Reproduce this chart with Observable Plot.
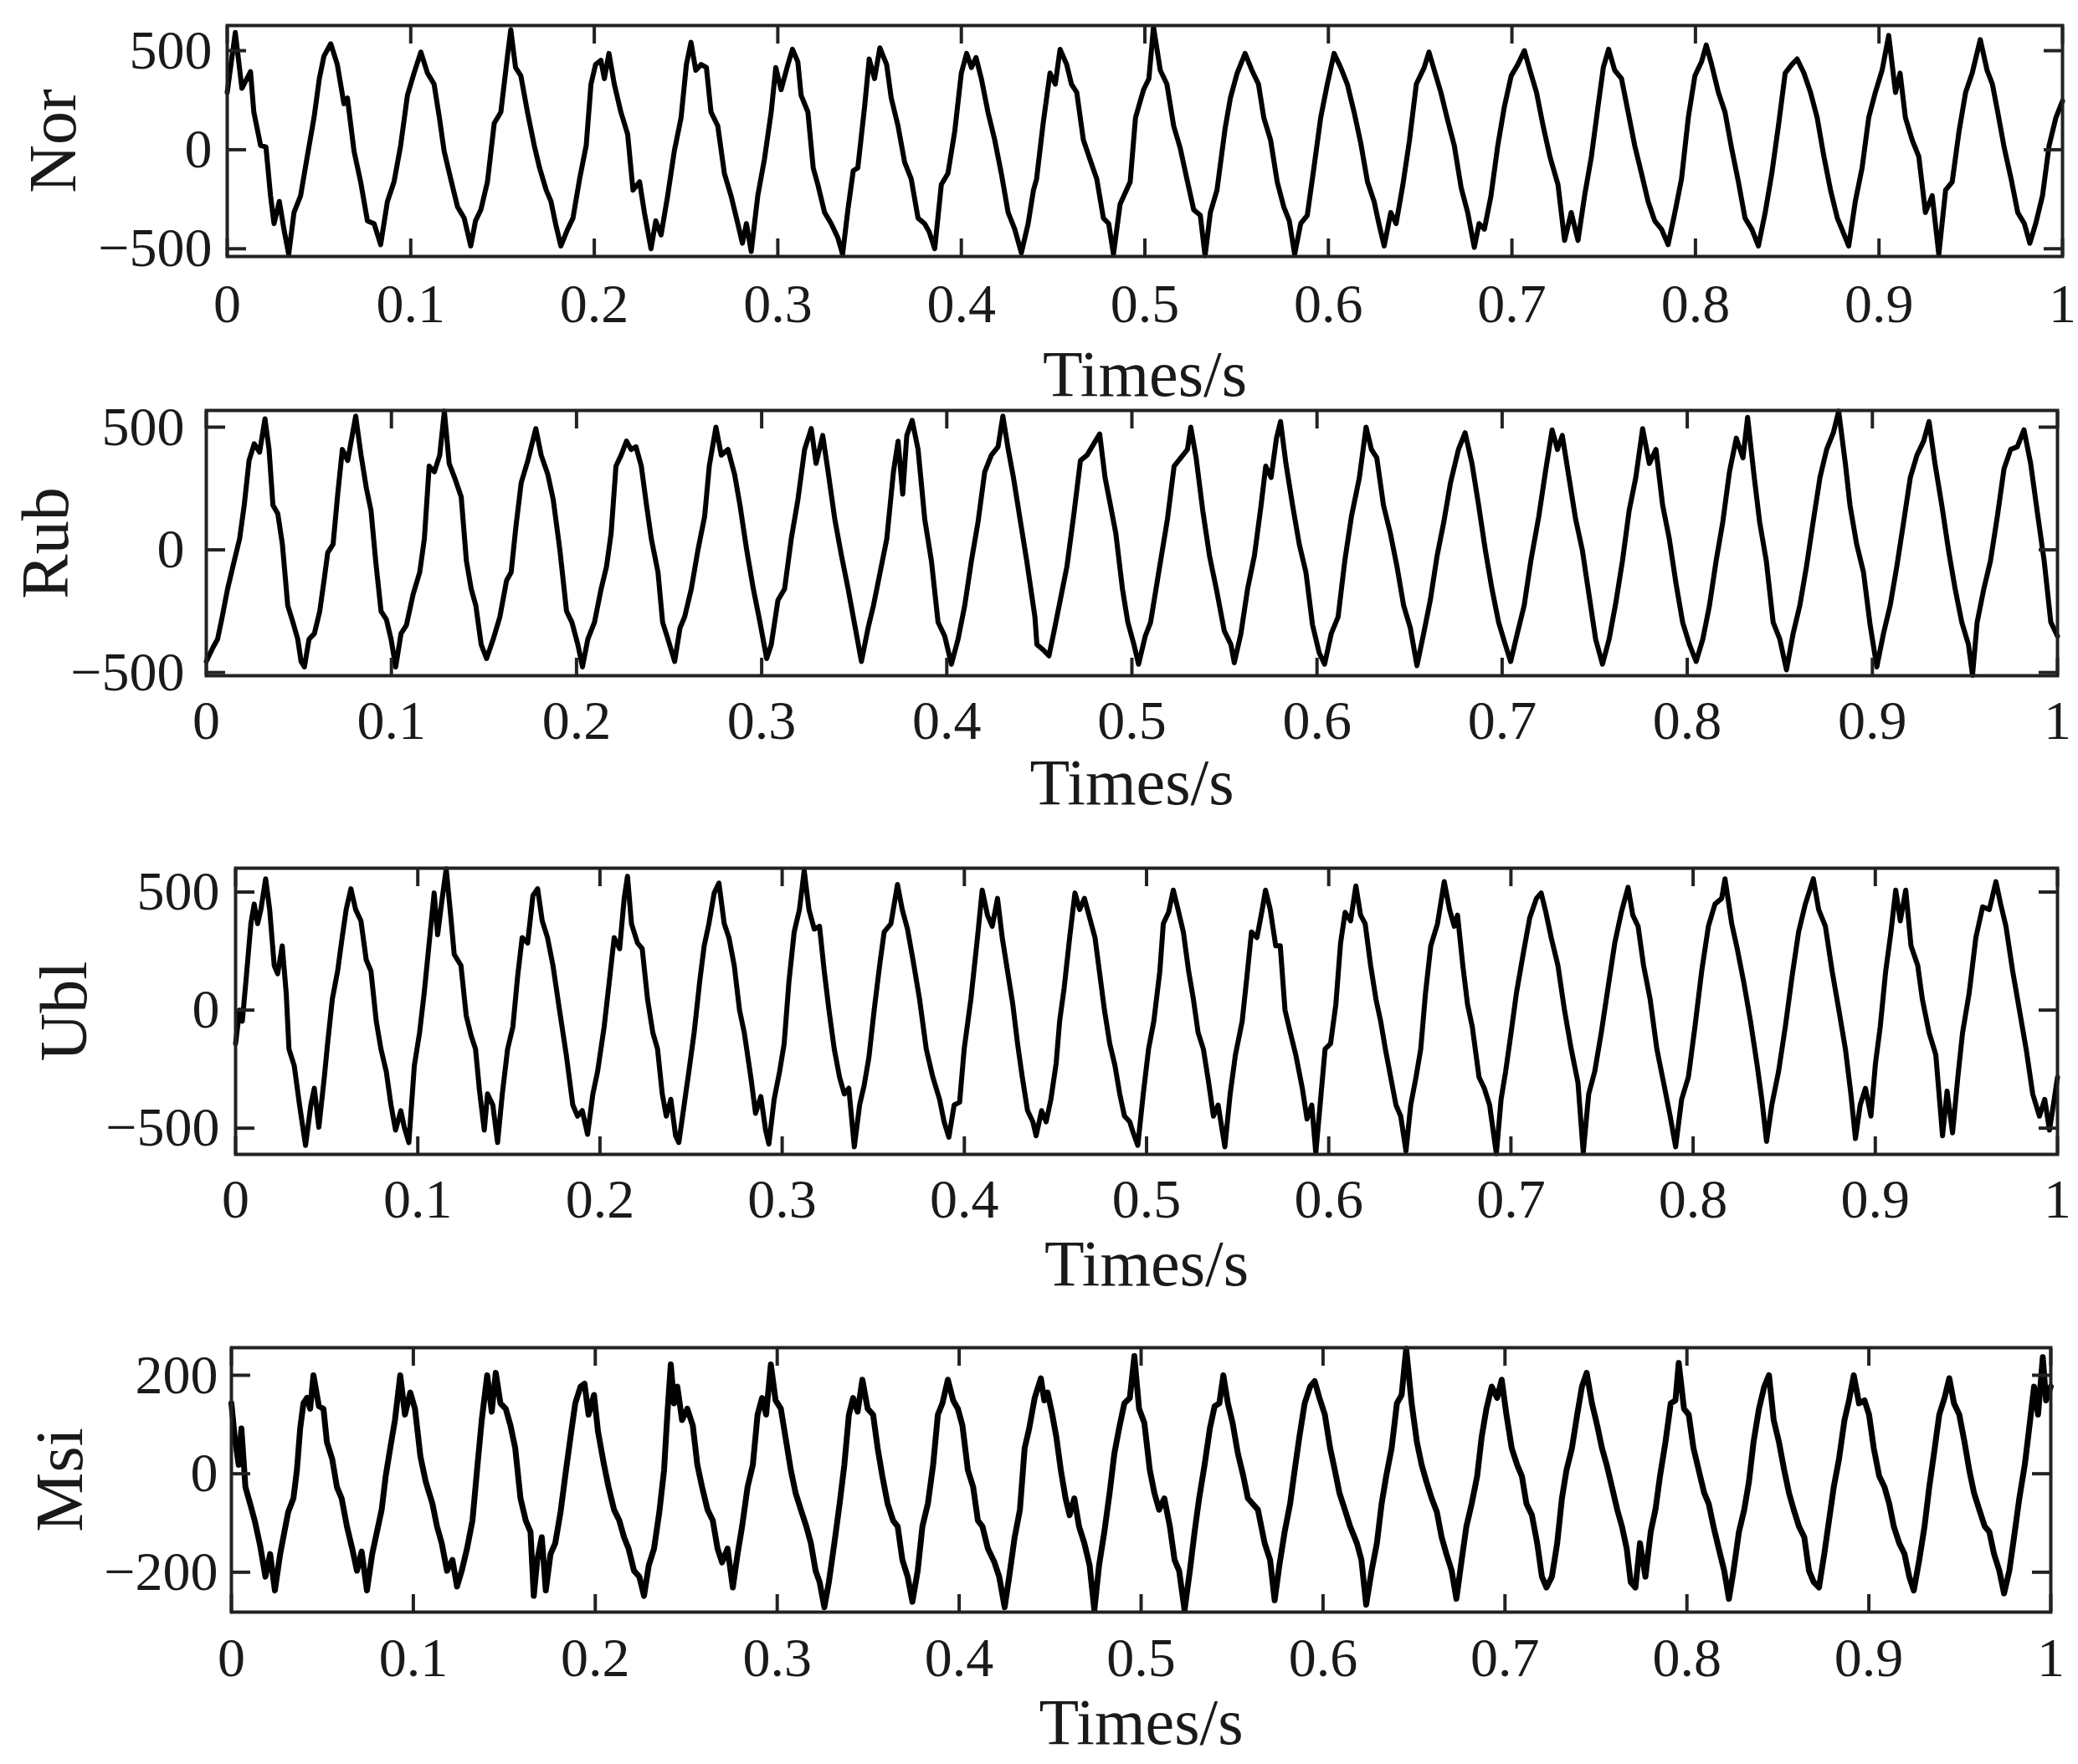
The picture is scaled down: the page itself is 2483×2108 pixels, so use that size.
<!DOCTYPE html>
<html><head><meta charset="utf-8">
<script src="https://cdn.jsdelivr.net/npm/d3@7"></script>
<script src="https://cdn.jsdelivr.net/npm/@observablehq/plot@0.6"></script>
<style>
html,body{margin:0;padding:0;background:#fff;}
#chart{width:2483px;height:2108px;overflow:hidden;background:#fff;}
#chart svg{display:block;}
</style></head><body><div id="chart"></div>
<script>
// ---------- data ----------
const xTicks = [0,0.1,0.2,0.3,0.4,0.5,0.6,0.7,0.8,0.9,1];
const yTicks500 = [-500,0,500];
const yTicks200 = [-200,0,200];
const seriesNames = ["Nor","Rub","Ubl","Msi"];
const xLabel = "Times/s";

const norT = [0,0.0044,0.008,0.0127,0.0145,0.0182,0.0211,0.0236,0.0255,0.0284,0.0309,0.0335,0.0364,0.04,0.0436,0.0473,0.0502,0.0527,0.0564,0.06,0.0636,0.0655,0.0691,0.0727,0.0764,0.08,0.0836,0.0873,0.0909,0.0945,0.0982,0.1018,0.1055,0.1091,0.1127,0.1156,0.1182,0.1218,0.1255,0.1291,0.1327,0.1353,0.1382,0.1418,0.1455,0.1491,0.1527,0.1545,0.1571,0.16,0.1636,0.1673,0.1702,0.1738,0.1764,0.1789,0.1818,0.1855,0.1884,0.192,0.1956,0.1982,0.2007,0.2036,0.2055,0.208,0.2109,0.2145,0.2182,0.2211,0.2247,0.2273,0.2309,0.2335,0.2364,0.24,0.2436,0.2473,0.2502,0.2527,0.2553,0.2582,0.2611,0.2636,0.2673,0.2709,0.2745,0.2782,0.2807,0.2829,0.2855,0.2891,0.2927,0.2964,0.2989,0.3018,0.3055,0.308,0.3109,0.3127,0.3164,0.3193,0.3218,0.3255,0.3291,0.3327,0.3353,0.3382,0.3411,0.3436,0.3473,0.3498,0.3527,0.3556,0.3593,0.3618,0.3655,0.3691,0.3727,0.3764,0.38,0.3825,0.3855,0.3891,0.3927,0.3964,0.4,0.4029,0.4055,0.408,0.4109,0.4145,0.4182,0.4218,0.4255,0.4291,0.4327,0.4364,0.4393,0.441,0.4446,0.4483,0.4512,0.4538,0.4574,0.46,0.4629,0.4665,0.4701,0.4738,0.4774,0.4803,0.4829,0.4865,0.492,0.4949,0.4993,0.5022,0.5047,0.5084,0.512,0.5157,0.5193,0.5229,0.5266,0.5302,0.5328,0.5357,0.5393,0.5437,0.5466,0.5503,0.5546,0.5583,0.5619,0.5648,0.5685,0.5721,0.5757,0.5787,0.5816,0.5849,0.5885,0.5921,0.5958,0.5994,0.6031,0.6067,0.6103,0.614,0.6176,0.6213,0.6249,0.6275,0.6304,0.634,0.6369,0.6406,0.6442,0.6479,0.6522,0.6548,0.6577,0.6613,0.665,0.6686,0.6723,0.6759,0.6795,0.6821,0.685,0.6886,0.6923,0.6959,0.6996,0.7032,0.7068,0.7098,0.7134,0.717,0.7207,0.7251,0.7287,0.7323,0.736,0.7396,0.7433,0.7469,0.7498,0.7527,0.756,0.7597,0.7633,0.7669,0.7706,0.7742,0.7778,0.7815,0.7851,0.7888,0.7924,0.7961,0.7997,0.8033,0.8059,0.8088,0.8125,0.8161,0.8197,0.8234,0.827,0.8307,0.8343,0.838,0.8416,0.8452,0.8489,0.8525,0.8554,0.8591,0.8627,0.8663,0.87,0.8736,0.8773,0.8798,0.8835,0.8871,0.8908,0.8944,0.898,0.9017,0.9053,0.909,0.9115,0.9144,0.9181,0.9217,0.9253,0.929,0.9326,0.9363,0.9399,0.9436,0.9472,0.9508,0.9552,0.9589,0.9618,0.9647,0.9683,0.972,0.9756,0.9792,0.9822,0.9854,0.9891,0.9927,0.9964,1];
const norV = [289,592,310,394,190,21,14,-232,-373,-261,-401,-528,-317,-232,-35,162,359,472,535,430,232,261,-7,-162,-359,-373,-479,-261,-162,21,275,387,493,387,331,162,-7,-148,-289,-345,-486,-359,-303,-162,134,190,472,606,415,373,190,21,-92,-204,-261,-373,-486,-401,-345,-148,21,331,430,451,359,486,331,190,77,-204,-162,-317,-500,-359,-430,-232,-7,162,430,542,401,430,415,190,120,-120,-232,-373,-472,-373,-514,-232,-49,190,415,303,430,507,444,275,190,-92,-176,-317,-373,-444,-528,-303,-106,-92,218,458,359,514,430,261,120,-63,-148,-345,-373,-415,-500,-176,-120,92,387,486,415,465,359,190,49,-120,-317,-401,-521,-373,-204,-148,134,387,331,507,430,331,289,49,-49,-148,-345,-373,-528,-275,-162,162,303,359,620,401,331,120,7,-148,-303,-331,-535,-317,-204,106,261,387,486,401,331,162,49,-162,-289,-359,-528,-373,-331,-92,162,331,486,415,331,190,35,-162,-261,-373,-486,-317,-373,-176,49,331,415,493,401,289,148,21,-190,-317,-493,-373,-401,-232,21,218,373,430,500,401,289,120,-35,-176,-458,-317,-458,-232,-35,218,415,507,401,359,190,21,-120,-261,-359,-401,-479,-317,-148,162,373,444,528,430,289,190,7,-162,-345,-401,-486,-317,-120,120,387,430,458,387,289,162,-35,-204,-345,-401,-486,-261,-92,162,289,401,577,289,387,162,49,-35,-317,-232,-528,-204,-162,92,289,387,556,401,331,190,7,-148,-317,-373,-472,-373,-232,21,162,246];

const rubT = [0,0.0036,0.0061,0.0086,0.0115,0.0151,0.018,0.0205,0.0231,0.0259,0.0288,0.0317,0.0339,0.036,0.0386,0.0411,0.044,0.0468,0.0494,0.0512,0.053,0.0555,0.0584,0.0613,0.0638,0.0656,0.0685,0.071,0.0735,0.0764,0.0807,0.0836,0.0865,0.089,0.0915,0.0944,0.0973,0.0998,0.1023,0.1052,0.1081,0.1117,0.1153,0.1178,0.1204,0.1232,0.1261,0.1286,0.1312,0.1341,0.1377,0.1405,0.1431,0.1456,0.1485,0.1514,0.155,0.1586,0.1622,0.1647,0.1672,0.1701,0.1737,0.178,0.1809,0.1845,0.1874,0.191,0.1946,0.1975,0.2007,0.2032,0.2061,0.2097,0.2133,0.2162,0.2187,0.2213,0.2241,0.227,0.2295,0.2321,0.235,0.2378,0.2404,0.244,0.2465,0.2494,0.253,0.2559,0.2584,0.262,0.2656,0.2692,0.2717,0.2753,0.2782,0.2818,0.2854,0.2883,0.2919,0.2955,0.2991,0.3027,0.3052,0.3088,0.3124,0.316,0.3196,0.3232,0.3268,0.3294,0.333,0.3359,0.3395,0.3431,0.3467,0.3503,0.3539,0.3575,0.3604,0.364,0.3676,0.3712,0.3737,0.3762,0.3784,0.3813,0.3845,0.3881,0.3917,0.3953,0.3989,0.4025,0.4061,0.4097,0.4133,0.4169,0.4205,0.4241,0.4277,0.4303,0.4332,0.436,0.4396,0.4432,0.4476,0.4487,0.4523,0.4552,0.4577,0.4613,0.4649,0.4685,0.4722,0.4758,0.4794,0.4826,0.4855,0.4884,0.4913,0.4949,0.4978,0.5011,0.5036,0.5072,0.5101,0.5145,0.5192,0.5228,0.5264,0.53,0.5318,0.5347,0.5383,0.5419,0.5456,0.5499,0.5535,0.5553,0.5589,0.5625,0.5662,0.5698,0.5723,0.5752,0.5781,0.5803,0.5832,0.5868,0.5904,0.594,0.5976,0.6012,0.6041,0.6077,0.6114,0.615,0.6186,0.6229,0.6265,0.6294,0.6323,0.6359,0.6396,0.6432,0.6468,0.6504,0.654,0.6576,0.6612,0.6649,0.6685,0.6721,0.6764,0.68,0.6837,0.6873,0.6909,0.6945,0.6981,0.7017,0.7046,0.7082,0.7119,0.7155,0.7198,0.7234,0.727,0.7299,0.7325,0.7361,0.7397,0.7433,0.7469,0.7505,0.7542,0.7578,0.7614,0.765,0.7686,0.7722,0.7759,0.7795,0.7831,0.7867,0.7903,0.7939,0.7975,0.8012,0.8048,0.8084,0.812,0.8156,0.8192,0.8228,0.8265,0.8301,0.8326,0.8362,0.8391,0.8427,0.8464,0.85,0.8536,0.8572,0.8608,0.8644,0.868,0.8717,0.8753,0.8789,0.8818,0.8854,0.8879,0.8915,0.8952,0.8988,0.9024,0.906,0.9096,0.9132,0.9169,0.9205,0.9241,0.9277,0.9306,0.9338,0.9375,0.9411,0.9447,0.9483,0.9519,0.9541,0.9566,0.9602,0.9638,0.9675,0.9711,0.9747,0.9783,0.9819,0.9855,0.9892,0.9928,0.9964,1];
const rubV = [-455,-398,-364,-273,-159,-45,45,182,364,432,398,534,409,182,148,23,-227,-295,-364,-455,-477,-364,-341,-250,-114,-11,23,227,409,364,545,386,250,159,-45,-250,-284,-364,-477,-341,-307,-182,-91,45,341,318,386,565,352,295,216,-45,-159,-227,-386,-443,-364,-273,-125,-91,91,273,364,494,386,307,205,0,-250,-295,-386,-477,-364,-295,-159,-68,68,341,386,443,409,420,341,182,45,-91,-295,-364,-455,-318,-273,-159,0,136,341,500,386,409,307,182,0,-159,-295,-443,-386,-205,-159,45,205,409,494,352,466,318,125,-23,-159,-307,-455,-318,-227,-91,45,318,443,227,466,528,409,125,-45,-295,-352,-466,-364,-227,-45,114,318,386,420,545,409,295,125,-45,-273,-386,-409,-432,-341,-205,-68,136,364,386,432,472,295,182,68,-159,-295,-386,-466,-352,-295,-91,125,341,375,409,500,375,159,-23,-159,-330,-386,-460,-341,-159,-23,182,341,295,455,523,352,182,23,-91,-307,-420,-466,-341,-273,-45,136,295,500,409,375,182,68,-68,-227,-318,-472,-341,-205,-23,114,273,409,477,352,182,0,-159,-295,-386,-455,-341,-227,-45,136,318,489,409,466,295,125,0,-182,-364,-466,-364,-216,-45,159,295,494,352,409,182,45,-136,-295,-386,-455,-364,-227,-45,114,318,455,375,540,295,114,-45,-295,-364,-489,-341,-227,-68,114,295,409,477,565,352,182,23,-91,-307,-477,-341,-227,-68,114,295,386,443,523,352,182,0,-159,-295,-386,-511,-295,-159,-45,136,330,409,420,489,352,148,-45,-295,-352];

const ublT = [0,0.0022,0.0037,0.0059,0.0084,0.0102,0.0121,0.0139,0.0165,0.0187,0.0212,0.0231,0.0256,0.0278,0.0293,0.0322,0.0351,0.0384,0.0413,0.0432,0.0457,0.0487,0.0505,0.0531,0.056,0.0585,0.0607,0.0633,0.0659,0.0688,0.0717,0.0743,0.0772,0.0798,0.0827,0.0853,0.0878,0.0907,0.0926,0.0951,0.0981,0.101,0.1035,0.1061,0.109,0.1109,0.1134,0.1156,0.1182,0.12,0.1237,0.1266,0.1292,0.1317,0.1339,0.1365,0.1383,0.1412,0.1438,0.1464,0.1493,0.1522,0.1548,0.1573,0.1603,0.1632,0.1658,0.1683,0.1712,0.1742,0.1778,0.1815,0.1851,0.1877,0.1903,0.1932,0.1961,0.1987,0.2023,0.2049,0.2078,0.2108,0.2133,0.2151,0.2173,0.2206,0.2232,0.2261,0.229,0.2316,0.2342,0.2364,0.2389,0.2415,0.2433,0.2462,0.2488,0.2517,0.2547,0.2572,0.2598,0.2627,0.2653,0.2682,0.2708,0.2737,0.2766,0.2792,0.2828,0.2854,0.2883,0.2909,0.2927,0.2956,0.2986,0.3011,0.3037,0.3066,0.3095,0.3121,0.3147,0.3176,0.3205,0.3231,0.3257,0.3286,0.3315,0.3341,0.3366,0.3396,0.3425,0.345,0.3476,0.3505,0.3535,0.356,0.3597,0.3633,0.3659,0.3688,0.3718,0.3754,0.3791,0.3827,0.3864,0.3889,0.3915,0.3944,0.3974,0.3999,0.4036,0.4072,0.4098,0.4127,0.4153,0.4182,0.4208,0.4237,0.4266,0.4292,0.4318,0.4347,0.4376,0.4394,0.4424,0.4449,0.4475,0.4504,0.4523,0.4548,0.4578,0.4607,0.4633,0.4659,0.4688,0.4717,0.4743,0.4769,0.4798,0.4827,0.4853,0.4879,0.4908,0.4927,0.4952,0.4982,0.5011,0.504,0.5073,0.5092,0.5121,0.5147,0.5173,0.5202,0.5231,0.5257,0.5283,0.5312,0.5341,0.5367,0.5393,0.543,0.5459,0.5488,0.5525,0.5551,0.5576,0.5606,0.5635,0.5653,0.5679,0.5709,0.5734,0.576,0.5789,0.5819,0.5855,0.5881,0.5907,0.5929,0.5958,0.598,0.601,0.6039,0.6065,0.609,0.612,0.6149,0.6175,0.62,0.623,0.6259,0.6285,0.6311,0.634,0.6369,0.6395,0.6424,0.645,0.6479,0.6505,0.6531,0.656,0.6597,0.6634,0.6663,0.6689,0.6707,0.6736,0.6762,0.6788,0.6825,0.6854,0.6883,0.692,0.6946,0.6971,0.7001,0.703,0.7067,0.7103,0.714,0.7166,0.7192,0.7221,0.7258,0.7294,0.7331,0.7368,0.7397,0.7427,0.746,0.7496,0.7533,0.757,0.7606,0.7643,0.7669,0.7698,0.7728,0.7764,0.7801,0.7838,0.7874,0.7904,0.7937,0.7974,0.801,0.8047,0.8084,0.812,0.8157,0.8175,0.8212,0.8242,0.8278,0.8315,0.8352,0.8377,0.8403,0.8432,0.8469,0.8506,0.8543,0.8579,0.8616,0.866,0.8689,0.8726,0.8763,0.88,0.8836,0.8866,0.8891,0.8917,0.8946,0.8976,0.9001,0.9027,0.9057,0.9086,0.9112,0.9137,0.9167,0.9196,0.9233,0.9258,0.9295,0.9332,0.9369,0.9394,0.9424,0.9453,0.9479,0.9515,0.9552,0.9589,0.9626,0.9662,0.9688,0.9717,0.9754,0.9791,0.9828,0.9864,0.9901,0.993,0.9956,0.9982,1];
const ublV = [-142,0,-47,142,366,449,366,426,556,426,189,154,272,71,-165,-236,-402,-573,-402,-331,-496,-284,-142,47,165,307,426,514,426,378,213,165,-47,-165,-260,-402,-508,-426,-496,-561,-236,-95,71,272,496,319,473,598,390,236,189,-24,-106,-165,-343,-508,-355,-402,-561,-355,-165,-71,142,307,284,485,514,378,307,189,0,-189,-402,-449,-426,-526,-355,-260,-71,106,307,260,473,567,366,284,260,47,-95,-165,-355,-449,-378,-532,-561,-402,-260,-95,118,272,366,496,538,366,307,189,0,-95,-284,-437,-366,-508,-567,-378,-260,-142,118,331,426,591,426,343,355,165,0,-165,-284,-355,-331,-579,-402,-319,-201,0,189,331,366,532,426,343,213,47,-165,-284,-378,-473,-538,-402,-390,-165,47,307,508,402,355,473,307,165,24,-142,-284,-426,-473,-532,-426,-473,-378,-225,-47,95,307,496,426,473,390,307,154,0,-142,-236,-355,-449,-473,-520,-573,-355,-165,-47,165,366,414,508,426,331,165,47,-95,-165,-307,-449,-402,-579,-355,-189,-47,142,331,307,426,508,426,272,272,0,-95,-189,-331,-461,-402,-605,-355,-165,-142,24,284,414,378,526,402,366,189,47,-47,-165,-284,-402,-449,-597,-402,-284,-165,71,272,366,544,426,355,402,189,24,-71,-284,-331,-402,-608,-378,-260,-95,71,236,390,473,496,414,307,189,0,-165,-307,-603,-355,-260,-95,95,284,414,520,402,355,189,47,-165,-307,-449,-579,-378,-284,-71,165,355,449,473,556,366,260,118,-47,-236,-378,-556,-402,-260,-71,142,331,449,556,426,355,165,0,-165,-355,-544,-402,-331,-449,-225,-71,165,331,508,378,508,272,189,47,-95,-189,-532,-343,-520,-284,-95,71,307,437,426,544,449,355,165,0,-165,-355,-449,-378,-508,-378,-284];

const msiT = [0,0.0018,0.004,0.0055,0.0077,0.0103,0.0128,0.0158,0.0187,0.0213,0.0239,0.0268,0.0297,0.0312,0.0341,0.036,0.0378,0.0396,0.0415,0.0433,0.0451,0.0481,0.0506,0.0525,0.0554,0.058,0.0606,0.0635,0.0664,0.069,0.0716,0.0745,0.0774,0.08,0.0826,0.0848,0.0873,0.0899,0.0928,0.0954,0.0983,0.1009,0.1039,0.1068,0.1105,0.113,0.1156,0.1185,0.1215,0.124,0.1266,0.1295,0.1325,0.135,0.1376,0.1406,0.1431,0.1453,0.1479,0.1508,0.1534,0.156,0.1589,0.1618,0.1644,0.1662,0.1681,0.1706,0.1728,0.1754,0.178,0.1809,0.1839,0.1864,0.189,0.1919,0.1941,0.1963,0.1993,0.2015,0.2048,0.2073,0.2103,0.2132,0.2158,0.2183,0.2213,0.2242,0.2268,0.2294,0.2323,0.2352,0.2378,0.2396,0.2415,0.2433,0.2451,0.2477,0.2506,0.2536,0.2561,0.2587,0.2617,0.2646,0.2672,0.2697,0.2727,0.2756,0.2782,0.2807,0.2837,0.2866,0.2892,0.2917,0.2939,0.2965,0.2991,0.302,0.305,0.3075,0.3101,0.313,0.316,0.3185,0.3211,0.3233,0.3259,0.3284,0.3314,0.3343,0.3369,0.3394,0.3417,0.3442,0.3468,0.3497,0.3527,0.3552,0.3578,0.3607,0.3637,0.3662,0.3688,0.3717,0.3743,0.3772,0.3798,0.3828,0.3857,0.3883,0.3908,0.3938,0.3967,0.3993,0.4018,0.4048,0.4077,0.4103,0.4128,0.4158,0.4194,0.422,0.425,0.4275,0.4305,0.4334,0.436,0.4385,0.4415,0.4449,0.4468,0.4486,0.4512,0.4534,0.4559,0.4585,0.4607,0.4633,0.4659,0.4688,0.4717,0.4743,0.4769,0.4798,0.4827,0.4853,0.4879,0.4908,0.4938,0.4963,0.4989,0.5018,0.5048,0.5073,0.5099,0.5128,0.5158,0.5184,0.5209,0.5239,0.5268,0.5294,0.5319,0.5349,0.5378,0.5404,0.543,0.5452,0.5477,0.5503,0.5532,0.5562,0.5587,0.5613,0.5642,0.5679,0.5709,0.5734,0.576,0.5789,0.5819,0.5844,0.587,0.5899,0.5929,0.5954,0.598,0.601,0.6039,0.6065,0.609,0.612,0.6149,0.6186,0.6211,0.6237,0.6267,0.6296,0.6322,0.6347,0.6377,0.6406,0.6432,0.6457,0.6487,0.6516,0.6542,0.6568,0.6597,0.6626,0.6652,0.6678,0.6707,0.6733,0.6762,0.6788,0.6817,0.6847,0.6872,0.6898,0.6927,0.6957,0.6982,0.7008,0.7037,0.7067,0.7093,0.7118,0.7148,0.7177,0.7203,0.7228,0.7258,0.7287,0.7313,0.7338,0.7368,0.7397,0.7423,0.7449,0.7478,0.7507,0.7533,0.7559,0.7588,0.7617,0.7643,0.7669,0.7691,0.7717,0.7742,0.7772,0.7801,0.7827,0.7852,0.7882,0.7911,0.7937,0.7955,0.7984,0.801,0.8036,0.8065,0.8095,0.812,0.8146,0.8175,0.8205,0.8231,0.8256,0.8286,0.8315,0.8341,0.8366,0.8396,0.8425,0.8451,0.8477,0.8506,0.8535,0.8561,0.8587,0.8616,0.8645,0.8671,0.8697,0.8726,0.8755,0.8781,0.8807,0.8836,0.8866,0.8891,0.8917,0.8946,0.8976,0.9001,0.9027,0.9057,0.9086,0.9112,0.9137,0.9167,0.9196,0.9222,0.9247,0.9277,0.9306,0.9332,0.9358,0.9387,0.9416,0.9442,0.9468,0.9497,0.9526,0.9552,0.9578,0.9607,0.9637,0.9662,0.9688,0.9717,0.9743,0.9772,0.9798,0.9827,0.9857,0.9883,0.9908,0.993,0.9956,0.9974,1];
const msiV = [143,75,18,92,-27,-61,-95,-146,-209,-163,-237,-163,-107,-78,-50,7,92,143,154,132,200,137,132,64,30,-27,-50,-107,-152,-197,-158,-237,-163,-118,-73,-5,52,109,200,120,165,132,35,-16,-61,-107,-141,-197,-175,-229,-197,-152,-95,7,109,200,126,205,143,132,98,52,-50,-95,-118,-248,-175,-129,-237,-163,-141,-78,7,75,143,177,183,120,160,86,18,-27,-73,-95,-129,-152,-197,-209,-248,-186,-152,-78,7,120,222,143,177,109,132,98,18,-27,-73,-95,-152,-180,-152,-231,-163,-107,-27,18,120,154,120,222,149,132,64,7,-39,-73,-107,-141,-197,-220,-271,-220,-141,-61,18,120,154,126,191,132,120,52,-5,-61,-95,-107,-175,-209,-260,-197,-107,-61,18,120,143,191,149,132,98,7,-27,-95,-107,-152,-180,-209,-271,-209,-129,-73,52,92,154,194,149,165,120,75,7,-50,-84,-50,-107,-141,-186,-277,-186,-118,-39,41,92,143,154,239,132,103,7,-39,-73,-50,-107,-175,-197,-277,-197,-118,-50,18,92,137,143,200,143,103,41,-5,-50,-61,-73,-141,-175,-257,-186,-118,-61,7,75,143,177,188,154,120,52,7,-39,-73,-107,-141,-175,-266,-197,-141,-61,-5,52,143,160,254,143,64,18,-16,-50,-78,-129,-163,-197,-254,-175,-107,-61,-5,75,132,177,154,191,120,52,18,-5,-61,-84,-141,-209,-231,-209,-141,-50,7,52,120,177,205,143,98,52,18,-27,-73,-107,-152,-220,-231,-141,-209,-118,-73,-5,64,143,149,225,132,120,52,7,-39,-61,-107,-152,-197,-254,-197,-118,-73,-16,64,132,177,200,109,64,7,-39,-73,-107,-129,-197,-220,-231,-163,-95,-27,30,109,149,200,143,149,120,52,-5,-27,-61,-107,-141,-163,-209,-237,-175,-107,-27,41,120,154,194,143,120,64,7,-39,-73,-107,-118,-163,-197,-243,-197,-129,-50,18,98,177,120,237,149,177];

// ---------- layout / style ----------
const W = 2483;
const FONT = "'Liberation Serif','Times New Roman',Times,serif";
const panels = [
  {name: seriesNames[0], t: norT, v: norV, yDomain: [-539, 627], yTicks: yTicks500,
   height: 480, mT: 30, mB: 174, mL: 271, mR: 19, yPad: 18, xPad: 32, titleDy: 166, labX: 89, labScale: 0.92, sw: 6},
  {name: seriesNames[1], t: rubT, v: rubV, yDomain: [-513, 568], yTicks: yTicks500,
   height: 520, mT: 10, mB: 193, mL: 246, mR: 25, yPad: 26, xPad: 29, titleDy: 153, labX: 80, labScale: 0.8, sw: 6},
  {name: seriesNames[2], t: ublT, v: ublV, yDomain: [-611, 601], yTicks: yTicks500,
   height: 560, mT: 37, mB: 181, mL: 281, mR: 25, yPad: 19, xPad: 29, titleDy: 156, labX: 102, labScale: 0.86, sw: 6},
  {name: seriesNames[3], t: msiT, v: msiV, yDomain: [-281, 256], yTicks: yTicks200,
   height: 548, mT: 50, mB: 182, mL: 276, mR: 33, yPad: 16, xPad: 30, titleDy: 157, labX: 97, labScale: 0.83, sw: 7}
];

const fmtX = d => String(+(+d).toFixed(1));
const tickStyle = {stroke: "#222", strokeWidth: 4, tickFormat: () => "", label: null};

function makePanel(p) {
  const data = p.t.map((t, i) => ({t, v: p.v[i]}));
  const svg = Plot.plot({
    width: W, height: p.height,
    marginTop: p.mT, marginBottom: p.mB, marginLeft: p.mL, marginRight: p.mR,
    style: {fontFamily: FONT, fontSize: "66px", color: "#222", background: "#fff", overflow: "visible"},
    x: {domain: [0, 1]},
    y: {domain: p.yDomain},
    marks: [
      Plot.line(data, {x: "t", y: "v", stroke: "#000", strokeWidth: p.sw, strokeLinejoin: "round", strokeLinecap: "round"}),
      Plot.axisX(xTicks, {anchor: "bottom", tickSize: 0, tickPadding: p.xPad, tickFormat: fmtX, fontSize: 66, fill: "#1a1a1a", label: null}),
      Plot.axisX(xTicks, {anchor: "bottom", tickSize: -21, ...tickStyle}),
      Plot.axisX(xTicks, {anchor: "top", tickSize: -21, ...tickStyle}),
      Plot.axisY(p.yTicks, {anchor: "left", tickSize: 0, tickPadding: p.yPad, fontSize: 66, fill: "#1a1a1a", label: null}),
      Plot.axisY(p.yTicks, {anchor: "left", tickSize: -23, ...tickStyle}),
      Plot.axisY(p.yTicks, {anchor: "right", tickSize: -23, ...tickStyle}),
      Plot.frame({stroke: "#222", strokeWidth: 4}),
      Plot.text([p.name], {text: d => d, frameAnchor: "left", dx: p.labX - p.mL, rotate: -90,
        lineAnchor: "bottom", textAnchor: "middle", fontSize: 80, fill: "#1a1a1a", ariaLabel: "ylabel"}),
      Plot.text([xLabel], {text: d => d, frameAnchor: "bottom", dy: p.titleDy, lineAnchor: "bottom",
        fontSize: 78, fill: "#1a1a1a", ariaLabel: "xlabel"})
    ]
  });
  svg.querySelectorAll('g[aria-label="ylabel"] text').forEach(el => {
    const tr = el.getAttribute("transform") || "";
    el.setAttribute("transform", tr + ` scale(${p.labScale},1)`);
  });
  return svg;
}

const root = document.getElementById("chart");
panels.forEach(p => root.appendChild(makePanel(p)));
</script>
</body></html>
